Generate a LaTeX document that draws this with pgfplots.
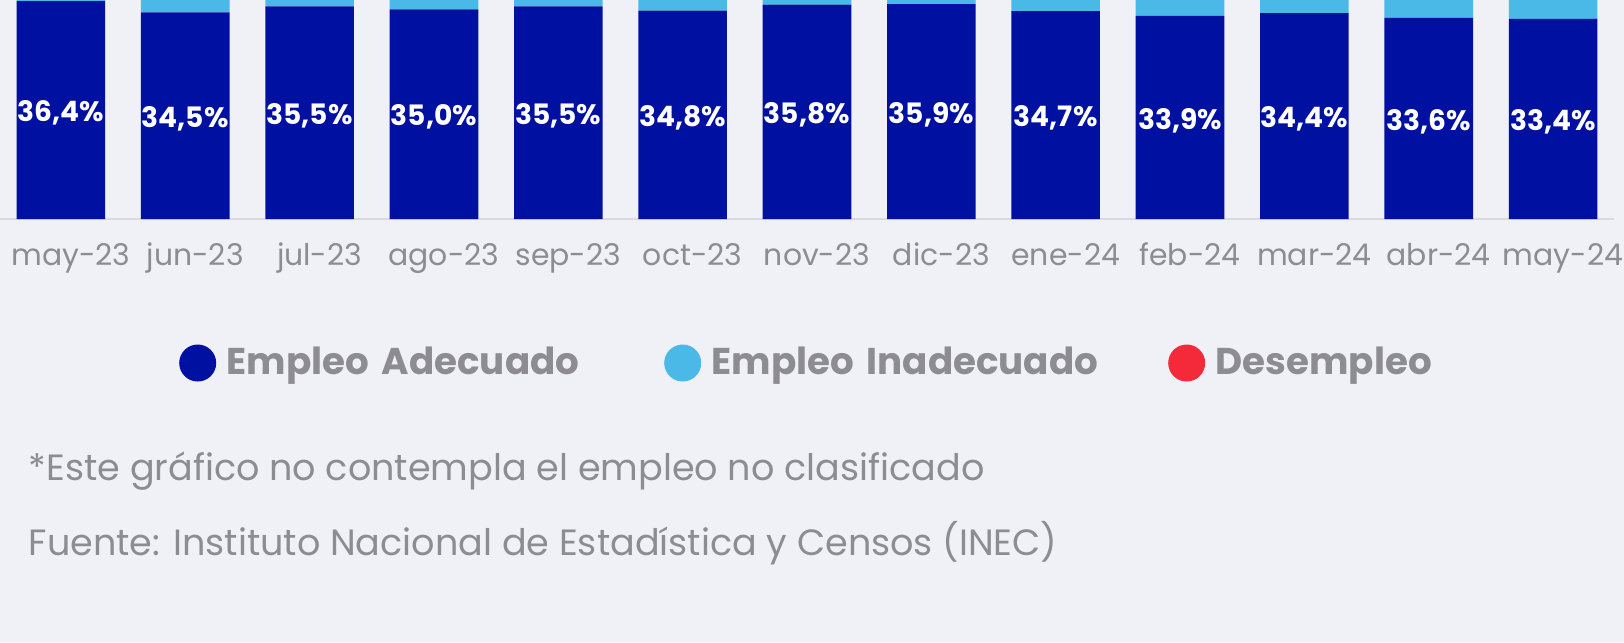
\documentclass[border=0pt]{standalone}
\usepackage{pgfplots}
\pgfplotsset{compat=1.18}
\usepackage{fontspec}
\setmainfont{Poppins}

\definecolor{bg}{HTML}{F0F0F7}
\definecolor{adeq}{HTML}{0010A0}
\definecolor{inad}{HTML}{4BB9E8}
\definecolor{desem}{HTML}{F4293A}
\definecolor{txtgray}{HTML}{8C8C91}
\definecolor{axgray}{HTML}{D9D9DE}

\begin{document}
\begin{tikzpicture}[x=0.1mm,y=0.1mm]
\useasboundingbox (0,0) rectangle (1624,642);
\fill[bg] (0,0) rectangle (1624,642);

\begin{axis}[
    at={(0mm,42.3mm)}, anchor=south west,
    scale only axis, width=161.4mm, height=21.9mm,
    ybar stacked, bar width=8.86mm,
    xmin=-0.49, xmax=12.49, ymin=0, ymax=36.57,
    axis x line*=bottom, axis y line=none,
    axis line style={draw=axgray, line width=0.2mm},
    xtick={0,...,12}, major tick length=0pt,
    xticklabels={may-23,jun-23,jul-23,ago-23,sep-23,oct-23,nov-23,dic-23,ene-24,feb-24,mar-24,abr-24,may-24},
    xticklabel style={anchor=base, yshift=-4.6mm, xshift=1mm, text=txtgray, font=\fontsize{8.5}{10}\selectfont},
    legend image code/.code={\fill[#1] (0mm,0mm) circle (1.85mm);},
    legend style={at={(0.1106,-0.6575)}, anchor=west, draw=none, fill=none,
        inner sep=0pt, legend columns=3, cells={anchor=west},
        nodes={inner sep=0pt, align=left, text=txtgray,
               font=\fontsize{10.6}{12}\selectfont\bfseries},
        /tikz/every odd column/.append style={column sep=1.05mm},
        /tikz/every even column/.append style={column sep=4.75mm}},
]
\addplot[fill=adeq, draw=none,
    nodes near coords={\pgfmathprintnumber[fixed,fixed zerofill,precision=1,use comma,assume math mode=true]{\pgfplotspointmeta}\%},
    every node near coord/.append style={text=white, anchor=center,
        font=\fontsize{8}{10}\selectfont\bfseries, yshift=-0.3mm}]
coordinates {(0,36.4) (1,34.5) (2,35.5) (3,35.0) (4,35.5) (5,34.8) (6,35.8)
             (7,35.9) (8,34.7) (9,33.9) (10,34.4) (11,33.6) (12,33.4)};
\addlegendentry[text width=39mm]{Empleo Adecuado}
\addplot[fill=inad, draw=none]
coordinates {(0,59.4) (1,61.4) (2,60.5) (3,61.0) (4,60.6) (5,61.2) (6,60.4)
             (7,60.4) (8,61.1) (9,62.0) (10,61.6) (11,62.6) (12,62.8)};
\addlegendentry[text width=40.9mm]{Empleo Inadecuado}
\addplot[fill=desem, draw=none]
coordinates {(0,3.8) (1,3.4) (2,3.4) (3,3.7) (4,3.8) (5,3.8) (6,3.4)
             (7,3.2) (8,3.4) (9,3.8) (10,3.6) (11,3.5) (12,3.4)};
\addlegendentry[text width=30mm]{Desempleo}
\end{axis}

\node[anchor=base west, inner sep=0pt, text=txtgray, font=\fontsize{10.4}{12}\selectfont]
  at (28,162) {*Este gráfico no contempla el empleo no clasificado};
\node[anchor=base west, inner sep=0pt, text=txtgray, font=\fontsize{10.4}{12}\selectfont]
  at (28,87) {Fuente: Instituto Nacional de Estadística y Censos (INEC)};
\end{tikzpicture}
\end{document}
